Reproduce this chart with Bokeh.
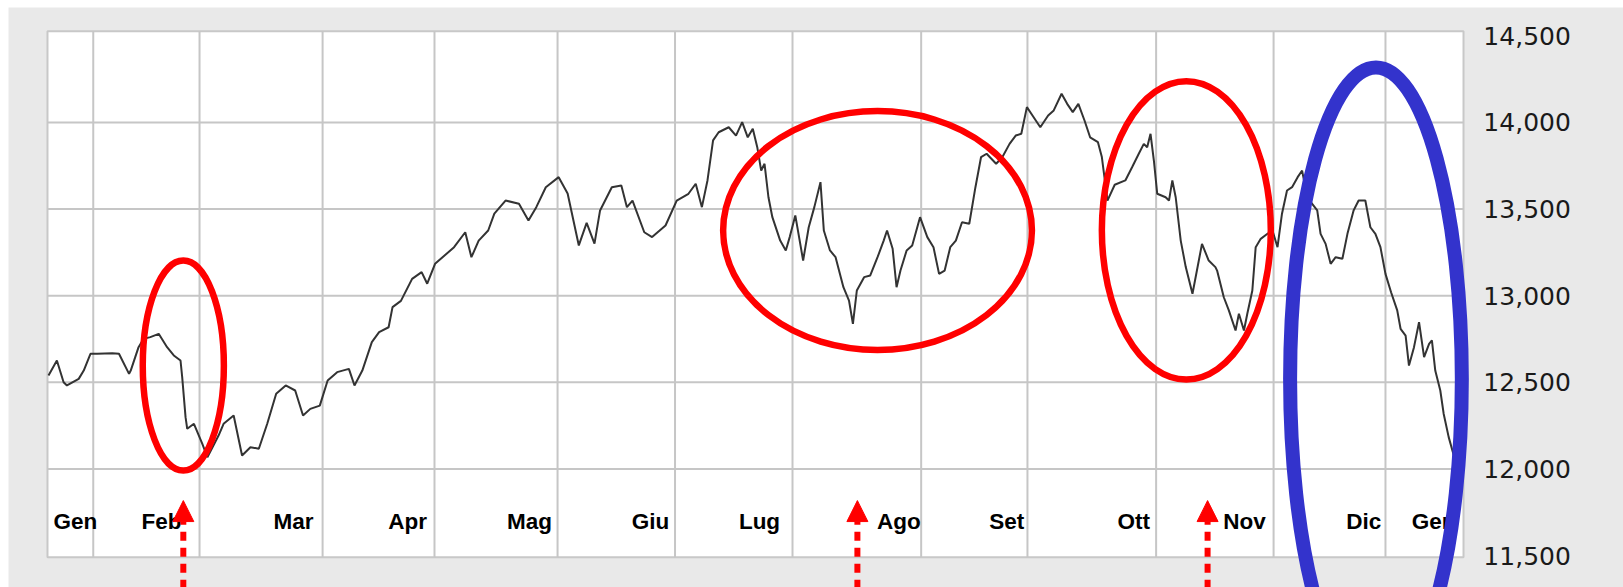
from bokeh.plotting import figure
from bokeh.models import Range1d, ColumnDataSource, Arrow, NormalHead
from bokeh.core.properties import value
from bokeh.embed import file_html
from bokeh.resources import INLINE

# ---------------- data ----------------
# x = trading-session index (0 = first session shown), y = index level
day = [0.0, 1.5, 2.7, 3.3, 5.4, 6.3, 7.5, 8.7, 11.4, 12.6, 14.4, 14.7, 16.1, 17.0, 18.2, 19.7,
       21.2, 22.4, 23.6, 23.9, 24.5, 24.8, 26.0, 27.5, 28.4, 30.4, 31.3, 33.1, 34.6, 36.1, 37.6,
       39.1, 40.7, 42.4, 44.1, 45.5, 46.8, 48.5, 49.9, 51.6, 53.7, 54.7, 56.1, 57.8, 59.1, 60.8,
       61.5, 63.0, 65.0, 66.7, 67.7, 69.1, 70.8, 72.5, 74.5, 75.6, 76.9, 78.6, 79.7, 81.7, 84.1,
       85.8, 87.2, 88.9, 91.2, 92.8, 94.8, 96.2, 97.6, 98.6, 100.7, 102.4, 103.4, 104.4, 106.5,
       107.9, 110.3, 112.3, 114.4, 115.7, 116.8, 117.8, 118.8, 119.8, 121.6, 122.9, 124.0, 125.0,
       125.9, 126.7, 127.4, 128.0, 128.7, 129.4, 130.8, 131.8, 132.5, 133.5, 134.9, 135.9, 136.9,
       138.0, 138.6, 139.7, 140.7, 142.1, 143.1, 143.8, 144.5, 145.8, 146.9, 148.2, 149.3, 149.9,
       150.9, 151.6, 152.3, 153.4, 154.4, 155.8, 157.1, 158.2, 159.2, 160.2, 161.2, 162.2, 163.3,
       164.6, 165.7, 166.7, 167.7, 169.4, 170.5, 171.8, 172.9, 173.9, 174.9, 175.9, 177.3, 178.7,
       179.7, 181.1, 182.1, 183.1, 184.1, 185.2, 186.2, 187.6, 188.3, 189.3, 190.6, 192.5, 193.7,
       194.9, 195.8, 196.4, 197.0, 197.6, 198.2, 199.7, 200.3, 200.9, 201.5, 202.4, 203.3, 204.5,
       206.2, 207.4, 208.6, 208.9, 210.1, 211.0, 212.2, 212.8, 213.7, 214.3, 215.2, 215.8, 216.7,
       217.9, 218.8, 219.7, 220.5, 221.4, 222.3, 223.3, 224.1, 225.0, 225.9, 226.8, 227.4, 228.3,
       229.2, 230.1, 231.3, 232.2, 233.3, 234.2, 235.4, 236.3, 237.2, 238.1, 239.0, 240.0, 241.1,
       241.7, 242.6, 243.2, 244.1, 245.0, 245.9, 246.8, 247.3, 247.9, 248.8, 249.4, 250.3, 251.3]
level = [12540, 12626, 12501, 12482, 12520, 12568, 12665, 12665, 12668, 12665, 12549, 12568, 12703,
         12751, 12761, 12780, 12703, 12655, 12626, 12530, 12299, 12232, 12261, 12145, 12068, 12193,
         12261, 12309, 12078, 12126, 12117, 12261, 12434, 12482, 12453, 12309, 12347, 12366, 12511,
         12559, 12578, 12482, 12568, 12732, 12790, 12818, 12934, 12970, 13097, 13136, 13069, 13184,
         13232, 13280, 13366, 13222, 13318, 13376, 13473, 13549, 13530, 13434, 13511, 13626, 13684,
         13590, 13290, 13420, 13300, 13492, 13626, 13636, 13511, 13549, 13366, 13338, 13405, 13549,
         13588, 13646, 13511, 13665, 13896, 13943, 13972, 13924, 14001, 13914, 13963, 13857, 13722,
         13761, 13568, 13453, 13318, 13261, 13338, 13463, 13203, 13395, 13511, 13655, 13376, 13261,
         13222, 13049, 12972, 12838, 13030, 13107, 13117, 13222, 13318, 13376, 13271, 13049, 13145,
         13261, 13290, 13453, 13338, 13280, 13126, 13145, 13280, 13318, 13424, 13415, 13626, 13799,
         13819, 13761, 13799, 13876, 13924, 13934, 14088, 14040, 13972, 14040, 14069, 14165, 14107,
         14059, 14107, 14011, 13914, 13886, 13800, 13549, 13640, 13665, 13741, 13819, 13876, 13857,
         13934, 13780, 13588, 13568, 13549, 13665, 13568, 13318, 13165, 13011, 13299, 13203, 13165,
         13145, 12991, 12915, 12799, 12896, 12799, 12896, 13030, 13280, 13328, 13357, 13376, 13280,
         13473, 13607, 13626, 13684, 13722, 13568, 13530, 13492, 13357, 13299, 13184, 13222, 13213,
         13357, 13492, 13549, 13549, 13395, 13357, 13280, 13126, 13020, 12915, 12809, 12770, 12597,
         12703, 12847, 12645, 12722, 12742, 12568, 12453, 12319, 12184, 12068]

month_start_day = [8, 27, 49, 69, 91, 112, 133, 156, 175, 198, 219, 239]
month_labels = ["Gen", "Feb", "Mar", "Apr", "Mag", "Giu", "Lug", "Ago", "Set", "Ott", "Nov", "Dic", "Gen"]
month_label_day = [4.8, 20.2, 43.8, 64.2, 86.0, 107.6, 127.1, 152.0, 171.3, 194.0, 213.8, 235.1, 247.6]

y_ticks = [11500, 12000, 12500, 13000, 13500, 14000, 14500]
y_tick_labels = ["11,500", "12,000", "12,500", "13,000", "13,500", "14,000", "14,500"]

# annotations (data units)
red_ell_x = [24.1, 148.2, 203.4]
red_ell_y = [12597, 13376, 13377]
red_ell_w = [14.5, 55.2, 30.2]
red_ell_h = [1212, 1379, 1722]
blue_ell_x = [237.3]
blue_ell_y = [12519]
blue_ell_w = [30.7]
blue_ell_h = [3600]
arrow_day = [24.1, 144.6, 207.2]
arrow_tip = [11818, 11818, 11818]

# ---------------- layout constants ----------------
W, H = 1623, 587
X_VIEW = (-8.58, 281.55)
Y_VIEW = (11316.4, 14703.2)
X_PANEL = (-7.15, 290.0)
Y_PANEL = (11200.0, 14662.8)
X_IN = (-0.18, 252.95)
Y_IN = (11491, 14526)
LABEL_Y = 11700
YLAB_X = 256.5

p = figure(width=W, height=H, output_backend="svg", toolbar_location=None,
           x_range=Range1d(*X_VIEW), y_range=Range1d(*Y_VIEW),
           x_axis_location=None, y_axis_location=None, min_border=0,
           background_fill_color="white", border_fill_color="white",
           outline_line_color=None)
p.grid.visible = False

# outer grey panel and white plot area
p.quad(left=[X_PANEL[0]], right=[X_PANEL[1]], bottom=[Y_PANEL[0]], top=[Y_PANEL[1]],
       fill_color="#e9e9e9", line_color=None)
p.quad(left=[X_IN[0]], right=[X_IN[1]], bottom=[Y_IN[0]], top=[Y_IN[1]],
       fill_color="white", line_color="#c8c8c8", line_width=2)

# grid
n = len(month_start_day)
p.segment(x0=month_start_day, x1=month_start_day, y0=[Y_IN[0]] * n, y1=[Y_IN[1]] * n,
          line_color="#c6c6c6", line_width=2)
hg = [t for t in y_ticks if Y_IN[0] + 50 < t < Y_IN[1] - 50]
p.segment(x0=[X_IN[0]] * len(hg), x1=[X_IN[1]] * len(hg), y0=hg, y1=hg,
          line_color="#c6c6c6", line_width=2)

# series
p.line(day, level, line_color="#333333", line_width=2.0)

# month labels
p.text(x=month_label_day, y=[LABEL_Y] * len(month_labels), text=month_labels,
       text_font=value("Liberation Sans"), text_font_style="bold", text_font_size="22.5px",
       text_align="center", text_baseline="middle", text_color="black")

# y tick labels
p.text(x=[YLAB_X] * len(y_ticks), y=y_ticks, text=y_tick_labels,
       text_font=value("DejaVu Sans"), text_font_size="25px",
       text_align="left", text_baseline="middle", text_color="#1a1a1a")

# ellipses
p.ellipse(x=red_ell_x, y=red_ell_y, width=red_ell_w, height=red_ell_h,
          fill_color=None, line_color="#ff0000", line_width=6.5)
p.ellipse(x=blue_ell_x, y=blue_ell_y, width=blue_ell_w, height=blue_ell_h,
          fill_color=None, line_color="#3333cc", line_width=14)

# arrows
asrc = ColumnDataSource(dict(x=arrow_day, y0=[Y_VIEW[0] - 100] * len(arrow_day), y1=arrow_tip))
p.add_layout(Arrow(end=NormalHead(size=21, fill_color="#ff0000", line_color="#ff0000", line_width=1),
                   x_start="x", y_start="y0", x_end="x", y_end="y1", source=asrc,
                   line_color="#ff0000", line_width=6, line_dash="9 7"))

open("out.html", "w").write(file_html(p, INLINE))
